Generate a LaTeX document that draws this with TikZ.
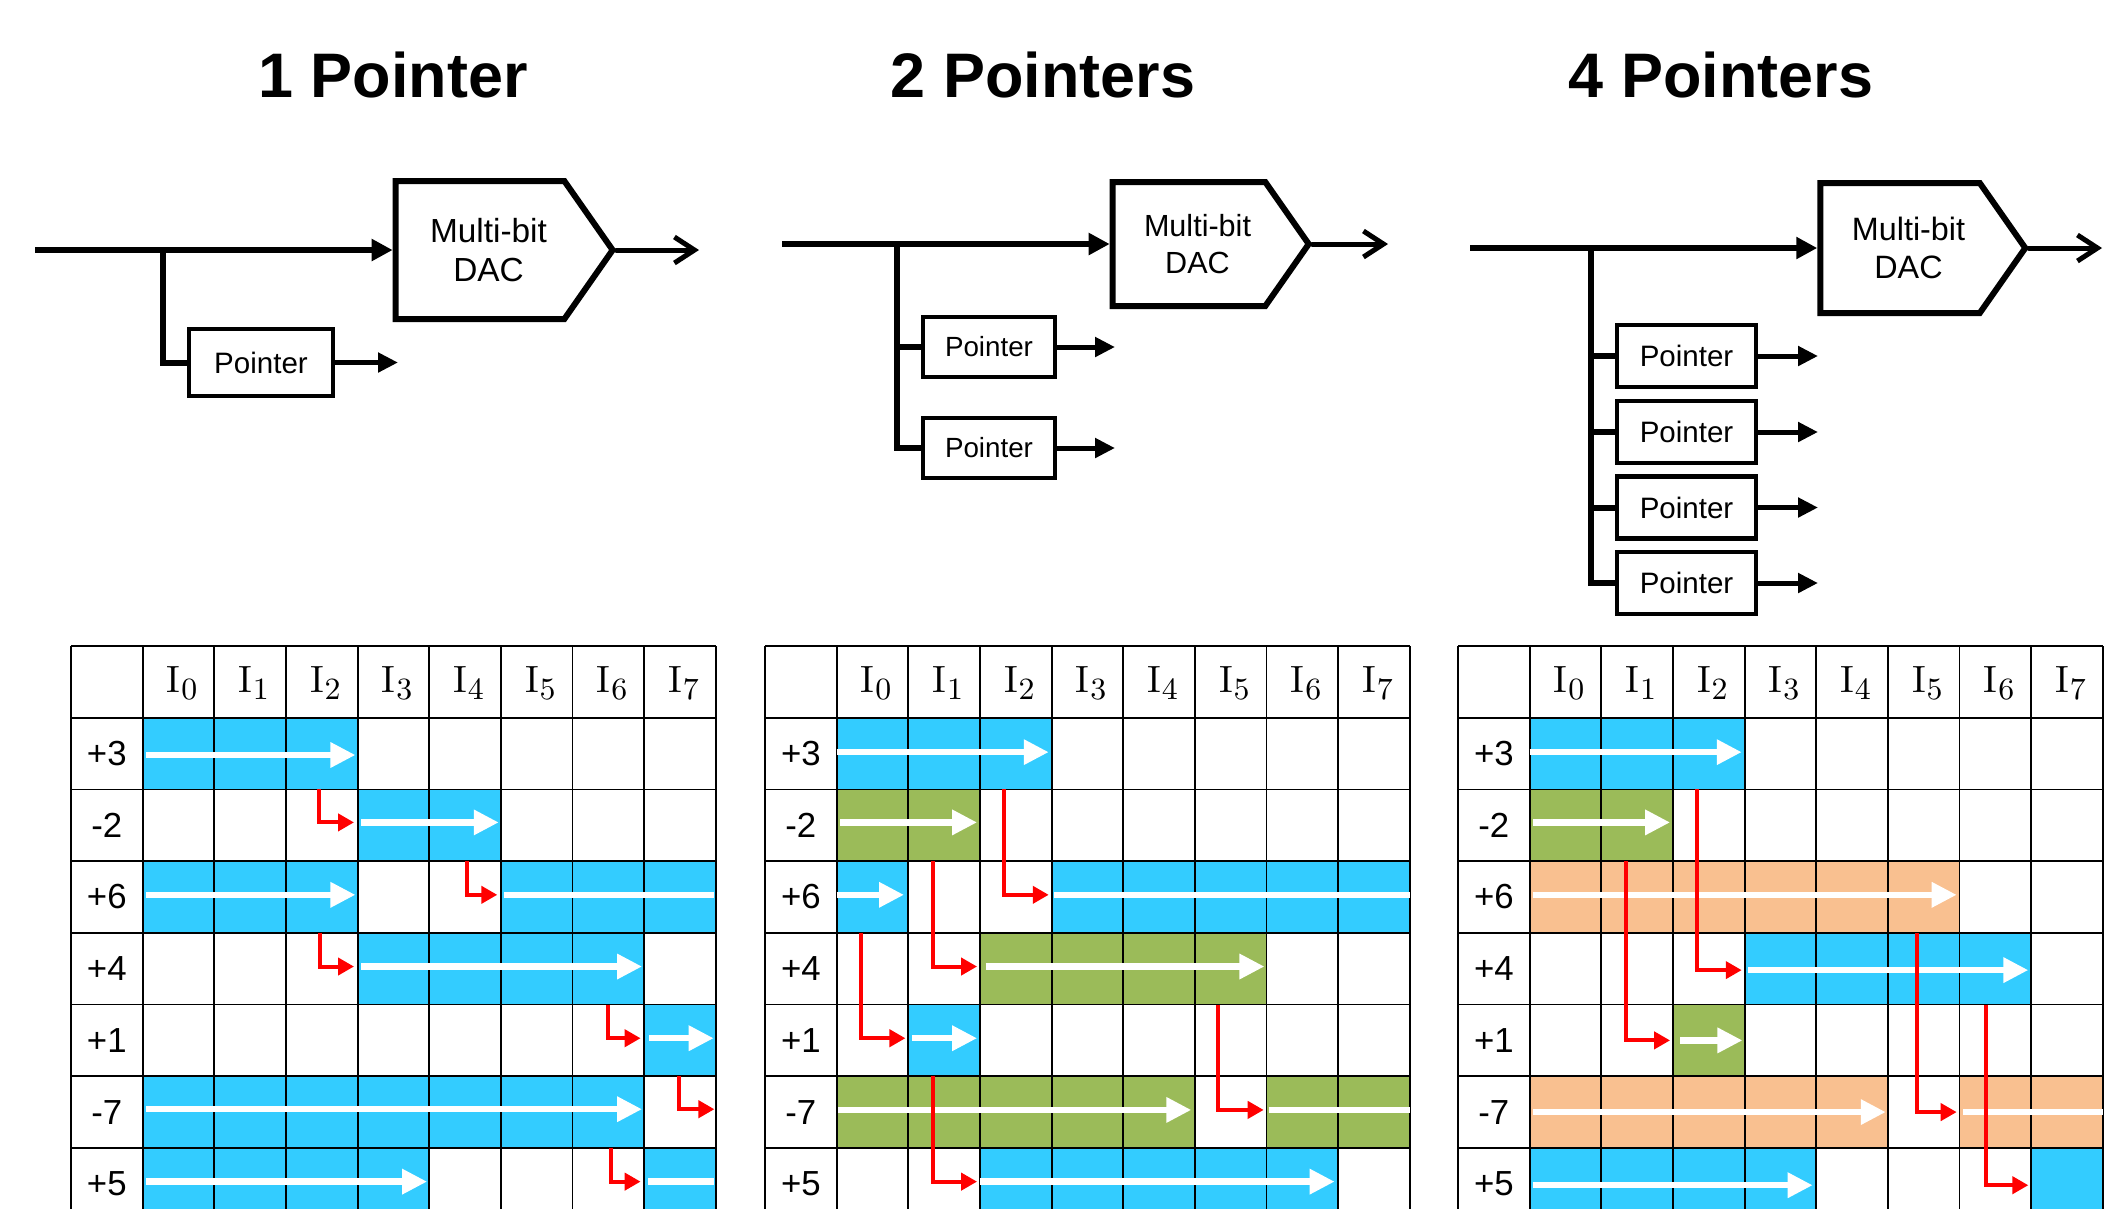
\documentclass[tikz,border=0pt]{standalone}
\usepackage{fontspec}
\usepackage{xcolor}
\usepackage{tikz}
\usetikzlibrary{arrows.meta,shapes.symbols}
\newfontfamily\arialfont{Liberation Sans}
\definecolor{Ptr1}{HTML}{33CCFF}
\definecolor{Ptr2}{HTML}{9BBB59}
\definecolor{Ptr3}{HTML}{F9C090}
\definecolor{RedArw}{HTML}{FF0000}
\tikzset{
  ttl/.style={anchor=base, font=\arialfont\bfseries\fontsize{17.9}{21}\selectfont},
  ptrbox/.style={draw, line width=0.045cm, inner sep=0pt, font=\arialfont\fontsize{8.4}{10}\selectfont},
  dacbox/.style={signal, signal to=east, signal pointer angle=110, draw, line width=0.06cm, inner sep=0pt, align=center, font=\arialfont\fontsize{9.2}{11}\selectfont},
  busarrow/.style={line width=0.065cm, -{Triangle[length=0.21cm,width=0.21cm]}},
  branch/.style={line width=0.06cm},
  ptrarrow/.style={line width=0.05cm, -{Triangle[length=0.2cm,width=0.19cm]}},
  dacarrow/.style={line width=0.05cm, line cap=round, -{Straight Barb[length=0.2cm,width=0.26cm]}},
  whitearrow/.style={white, line width=0.065cm, -{Triangle[length=0.25cm,width=0.24cm]}},
  whiteline/.style={white, line width=0.065cm},
  redarrow/.style={RedArw, line width=0.04cm, -{Triangle[length=0.16cm,width=0.17cm]}},
  hdr/.style={font=\fontsize{10.8}{13}\selectfont},
  rowlbl/.style={font=\arialfont\fontsize{9.9}{12}\selectfont},
  gridline/.style={line width=0.018cm}
}
\newcommand{\dactext}{\hspace*{0.17cm}Multi-bit\\\hspace*{0.17cm}DAC}
\newcommand{\pointergrid}[1]{%
\foreach \c in {0,...,9} {\draw[gridline] (\c,0) -- (\c,8.2);}%
\foreach \r in {0,...,8} {\draw[gridline] (0,\r) -- (9,\r);}%
\foreach \k in {0,...,7} {\node[hdr] (#1h\k) at (\k+1.55,0.52) {I\kern0.02em\raisebox{-0.19em}{\fontsize{8.8}{10}\selectfont\k}};}%
\foreach \v [count=\r] in {+3,-2,+6,+4,+1,-7,+5} {\node[rowlbl] (#1r\r) at (0.5,\r+0.5) {\v};}%
}
\begin{document}
\begin{tikzpicture}%
\useasboundingbox (0,0) rectangle (21.08,-12.08);%
\clip (0,0) rectangle (21.08,-12.08);%
\node[ttl] (t1) at (3.93,-0.97) {1 Pointer};%
\node[ttl] (t2) at (10.43,-0.97) {2 Pointers};%
\node[ttl] (t3) at (17.21,-0.97) {4 Pointers};%
\coordinate (in1) at (0.35,-2.50);%
\coordinate (j1) at (1.63,-2.50);%
\node[dacbox, minimum width=2.17cm, minimum height=1.38cm, font=\arialfont\fontsize{9.5}{11.3}\selectfont] (dac1) at (4.80,-2.50) {\dactext};%
\node[ptrbox, minimum width=1.44cm, minimum height=0.67cm] (p1) at (2.61,-3.625) {Pointer};%
\coordinate (po1) at (3.98,-3.625);%
\coordinate (do1) at (6.99,-2.50);%
\draw[busarrow] (in1) -- (dac1.west);%
\draw[branch] (j1) |- (p1.west);%
\draw[ptrarrow] (p1.east) -- (po1);%
\draw[dacarrow] (dac1.east) -- (do1);%
\coordinate (in2) at (7.82,-2.44);%
\coordinate (j2) at (8.97,-2.44);%
\node[dacbox, minimum width=1.96cm, minimum height=1.24cm, font=\arialfont\fontsize{8.7}{10.4}\selectfont] (dac2) at (11.89,-2.44) {\dactext};%
\node[ptrbox, minimum width=1.32cm, minimum height=0.60cm, font=\arialfont\fontsize{7.9}{9.5}\selectfont] (p2a) at (9.89,-3.47) {Pointer};%
\node[ptrbox, minimum width=1.32cm, minimum height=0.60cm, font=\arialfont\fontsize{7.9}{9.5}\selectfont] (p2b) at (9.89,-4.48) {Pointer};%
\coordinate (po2a) at (11.15,-3.47);%
\coordinate (po2b) at (11.15,-4.48);%
\coordinate (do2) at (13.88,-2.44);%
\draw[busarrow] (in2) -- (dac2.west);%
\draw[branch] (j2) |- (p2b.west);%
\draw[branch] (j2) |- (p2a.west);%
\draw[ptrarrow] (p2a.east) -- (po2a);%
\draw[ptrarrow] (p2b.east) -- (po2b);%
\draw[dacarrow] (dac2.east) -- (do2);%
\coordinate (in3) at (14.70,-2.48);%
\coordinate (j3) at (15.91,-2.48);%
\node[dacbox, minimum width=2.05cm, minimum height=1.30cm] (dac3) at (19.00,-2.48) {\dactext};%
\foreach \n/\y in {a/3.56,b/4.32,c/5.075,d/5.83} {%
\node[ptrbox, minimum width=1.39cm, minimum height=0.62cm] (p3\n) at (16.865,-\y) {Pointer};%
\coordinate (po3\n) at (18.18,-\y);%
\draw[branch] (j3) |- (p3\n.west);%
\draw[ptrarrow] (p3\n.east) -- (po3\n);%
}%
\coordinate (do3) at (21.02,-2.48);%
\draw[busarrow] (in3) -- (dac3.west);%
\draw[dacarrow] (dac3.east) -- (do3);%
\begin{scope}[shift={(0.71,-6.46)}, x=0.7165cm, y=-0.717cm]%
\fill[Ptr1] (1,1) rectangle (4,2);%
\fill[Ptr1] (4,2) rectangle (6,3);%
\fill[Ptr1] (1,3) rectangle (4,4);%
\fill[Ptr1] (6,3) rectangle (9,4);%
\fill[Ptr1] (4,4) rectangle (8,5);%
\fill[Ptr1] (8,5) rectangle (9,6);%
\fill[Ptr1] (1,6) rectangle (8,7);%
\fill[Ptr1] (1,7) rectangle (5,8);%
\fill[Ptr1] (8,7) rectangle (9,8);%
\pointergrid{a}%
\draw[whitearrow] (1.05,1.52) -- (3.97,1.52);%
\draw[whitearrow] (4.05,2.46) -- (5.97,2.46);%
\draw[whitearrow] (1.05,3.47) -- (3.97,3.47);%
\draw[whiteline] (6.05,3.47) -- (8.97,3.47);%
\draw[whitearrow] (4.05,4.47) -- (7.97,4.47);%
\draw[whitearrow] (8.07,5.47) -- (8.97,5.47);%
\draw[whitearrow] (1.05,6.46) -- (7.97,6.46);%
\draw[whitearrow] (1.05,7.47) -- (4.97,7.47);%
\draw[whiteline] (8.05,7.47) -- (8.97,7.47);%
\draw[redarrow] (3.46,2) |- (3.95,2.46);%
\draw[redarrow] (5.52,3) |- (5.95,3.47);%
\draw[redarrow] (3.48,4) |- (3.95,4.47);%
\draw[redarrow] (7.50,5) |- (7.95,5.47);%
\draw[redarrow] (8.49,6) |- (8.98,6.46);%
\draw[redarrow] (7.53,7) |- (7.95,7.47);%
\end{scope}%
\begin{scope}[shift={(7.65,-6.46)}, x=0.7165cm, y=-0.717cm]%
\fill[Ptr1] (1,1) rectangle (4,2);%
\fill[Ptr2] (1,2) rectangle (3,3);%
\fill[Ptr1] (1,3) rectangle (2,4);%
\fill[Ptr1] (4,3) rectangle (9,4);%
\fill[Ptr2] (3,4) rectangle (7,5);%
\fill[Ptr1] (2,5) rectangle (3,6);%
\fill[Ptr2] (1,6) rectangle (6,7);%
\fill[Ptr2] (7,6) rectangle (9,7);%
\fill[Ptr1] (3,7) rectangle (8,8);%
\pointergrid{b}%
\draw[whitearrow] (1.00,1.48) -- (3.96,1.48);%
\draw[whitearrow] (1.05,2.46) -- (2.96,2.46);%
\draw[whitearrow] (1.00,3.47) -- (1.94,3.47);%
\draw[whiteline] (4.04,3.47) -- (9,3.47);%
\draw[whitearrow] (3.08,4.47) -- (6.97,4.47);%
\draw[whitearrow] (2.05,5.47) -- (2.96,5.47);%
\draw[whitearrow] (1.02,6.47) -- (5.95,6.47);%
\draw[whiteline] (7.03,6.47) -- (9,6.47);%
\draw[whitearrow] (3.00,7.47) -- (7.95,7.47);%
\draw[redarrow] (3.34,2) |- (3.96,3.47);%
\draw[redarrow] (2.35,3) |- (2.96,4.47);%
\draw[redarrow] (1.34,4) |- (1.96,5.47);%
\draw[redarrow] (6.32,5) |- (6.96,6.47);%
\draw[redarrow] (2.35,6) |- (2.96,7.47);%
\end{scope}%
\begin{scope}[shift={(14.58,-6.46)}, x=0.7165cm, y=-0.717cm]%
\fill[Ptr1] (1,1) rectangle (4,2);%
\fill[Ptr2] (1,2) rectangle (3,3);%
\fill[Ptr3] (1,3) rectangle (7,4);%
\fill[Ptr1] (4,4) rectangle (8,5);%
\fill[Ptr2] (3,5) rectangle (4,6);%
\fill[Ptr3] (1,6) rectangle (6,7);%
\fill[Ptr3] (7,6) rectangle (9,7);%
\fill[Ptr1] (1,7) rectangle (5,8);%
\fill[Ptr1] (8,7) rectangle (9,8);%
\pointergrid{c}%
\draw[whitearrow] (1.00,1.48) -- (3.96,1.48);%
\draw[whitearrow] (1.05,2.46) -- (2.96,2.46);%
\draw[whitearrow] (1.04,3.47) -- (6.96,3.47);%
\draw[whitearrow] (4.05,4.52) -- (7.96,4.52);%
\draw[whitearrow] (3.10,5.50) -- (3.97,5.50);%
\draw[whitearrow] (1.04,6.50) -- (5.97,6.50);%
\draw[whiteline] (7.05,6.50) -- (9,6.50);%
\draw[whitearrow] (1.04,7.52) -- (4.95,7.52);%
\draw[redarrow] (3.33,2) |- (3.96,4.52);%
\draw[redarrow] (2.34,3) |- (2.96,5.50);%
\draw[redarrow] (6.41,4) |- (6.96,6.50);%
\draw[redarrow] (7.37,5) |- (7.96,7.52);%
\end{scope}%
\end{tikzpicture}
\end{document}
